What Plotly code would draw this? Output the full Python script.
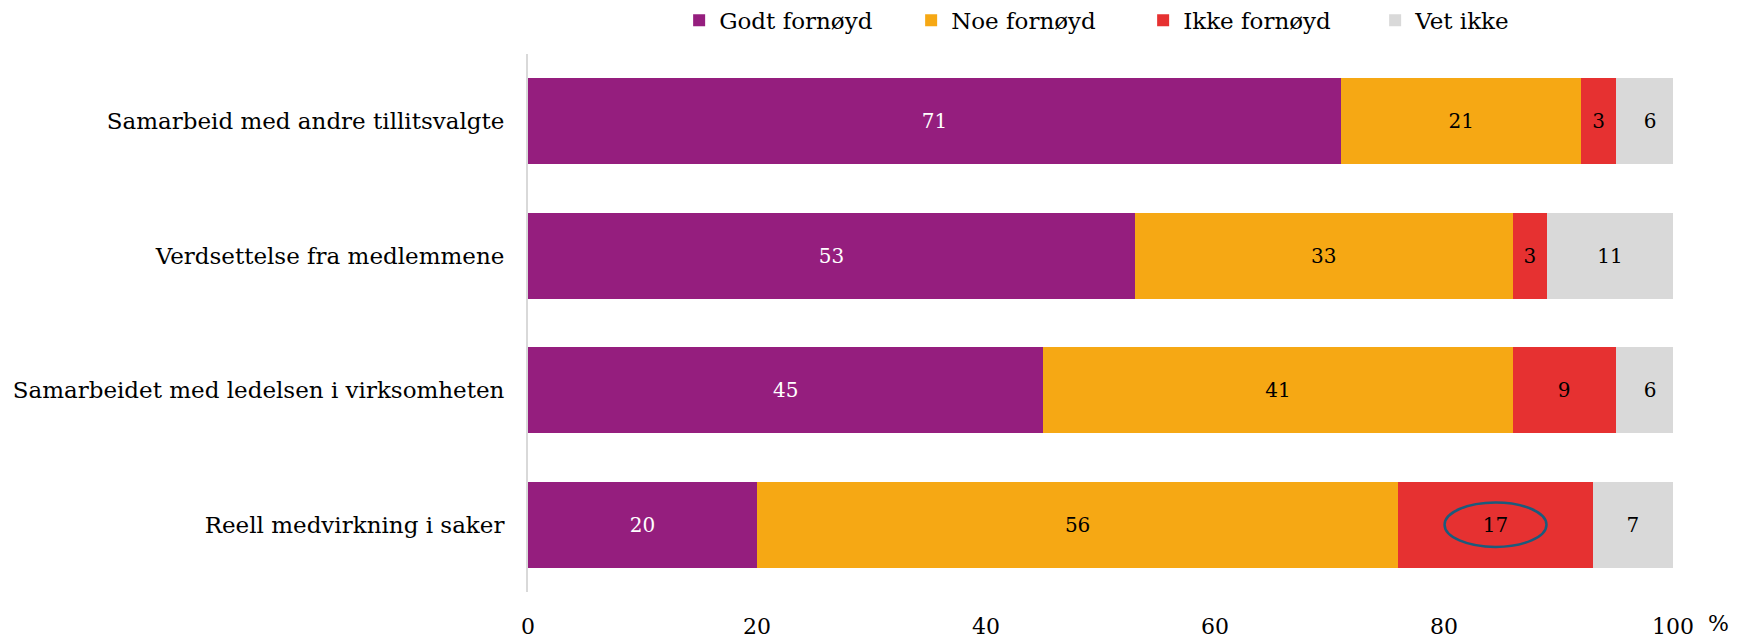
import plotly.graph_objects as go

categories = ["Samarbeid med andre tillitsvalgte", "Verdsettelse fra medlemmene",
              "Samarbeidet med ledelsen i virksomheten", "Reell medvirkning i saker"]
series_names = ["Godt fornøyd", "Noe fornøyd", "Ikke fornøyd", "Vet ikke"]
godt = [71, 53, 45, 20]
noe = [21, 33, 41, 56]
ikke = [3, 3, 9, 17]
vet = [6, 11, 6, 7]
colors = ["#951E7E", "#F6A814", "#E63131", "#D9D9D9"]
text_colors = ["white", "black", "black", "black"]
tick_vals = [0, 20, 40, 60, 80, 100]

FONT = "DejaVu Serif"
fig = go.Figure()
for name, vals, c, tc in zip(series_names, [godt, noe, ikke, vet], colors, text_colors):
    fig.add_trace(go.Bar(
        y=categories, x=vals, name=name, orientation="h",
        marker=dict(color=c, line=dict(width=0)),
        text=[str(v) for v in vals], textposition="inside",
        insidetextanchor="middle", textangle=0, constraintext="none",
        textfont=dict(color=tc, size=20, family=FONT),
        width=0.64,
    ))

# highlight ellipse around the "Ikke fornøyd" value in last row
last = len(categories) - 1
cx = godt[last] + noe[last] + ikke[last] / 2
fig.add_shape(type="circle", xref="x", yref="y",
              x0=cx - 4.45, x1=cx + 4.45, y0=last - 0.165, y1=last + 0.165,
              line=dict(color="#1B5B7C", width=2.5))

fig.add_annotation(text="%", xref="paper", yref="paper", x=1.0, y=0, xshift=58, yshift=-31,
                   yanchor="middle", showarrow=False,
                   font=dict(size=22, family=FONT, color="black"))

fig.update_layout(
    barmode="stack", width=1744, height=643,
    margin=dict(l=520, r=79, t=45, b=56),
    paper_bgcolor="white", plot_bgcolor="white",
    font=dict(family=FONT, size=20, color="black"),
    uniformtext=dict(minsize=20, mode="show"),
    legend=dict(orientation="h", x=0.132, xanchor="left", xref="paper",
                y=0.981, yanchor="middle", yref="container",
                traceorder="normal", entrywidth=187, entrywidthmode="pixels",
                font=dict(size=23, family=FONT), itemwidth=30),
    xaxis=dict(range=[0, 100], tickvals=tick_vals, showgrid=False, zeroline=False,
               showline=False, ticks="", ticklabelstandoff=19,
               tickfont=dict(size=22, family=FONT)),
    yaxis=dict(autorange="reversed", showgrid=False, showline=True, linecolor="#D9D9D9",
               linewidth=2, ticks="", ticklabelstandoff=17, automargin=False,
               tickfont=dict(size=23, family=FONT)),
    showlegend=True,
)
fig.write_html("out.html")
